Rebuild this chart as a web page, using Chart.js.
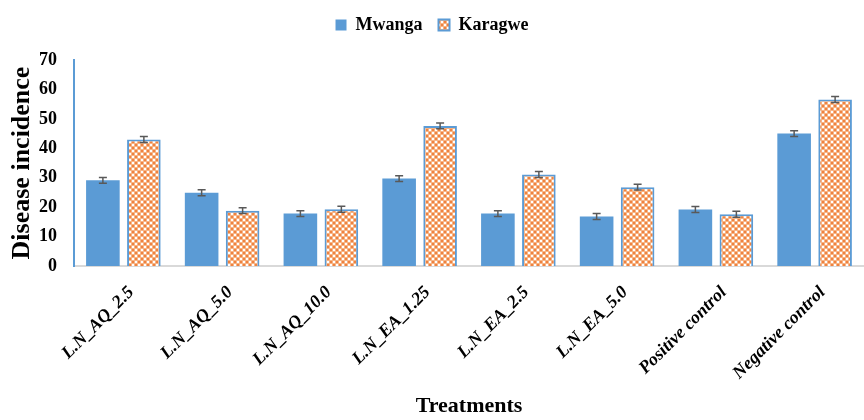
<!DOCTYPE html>
<html>
<head>
<meta charset="utf-8">
<script src="https://cdn.jsdelivr.net/npm/chart.js@4.4.1/dist/chart.umd.min.js"></script>
<style>
  html, body { margin: 0; padding: 0; background: #fff; }
  #wrap { width: 864px; height: 420px; }
</style>
</head>
<body>
<div id="wrap"><canvas id="chart" width="864" height="420"></canvas></div>
<script>
// data
const treatments = ['L.N_AQ_2.5', 'L.N_AQ_5.0', 'L.N_AQ_10.0', 'L.N_EA_1.25', 'L.N_EA_2.5', 'L.N_EA_5.0', 'Positive control', 'Negative control'];
const mwanga = [29.1, 24.9, 17.8, 29.7, 17.8, 16.8, 19.2, 45.0];
const karagwe = [43.0, 18.8, 19.3, 47.6, 31.1, 26.8, 17.6, 56.6];
const mwangaErr = [1.0, 1.0, 1.0, 1.0, 1.0, 1.0, 1.0, 1.0];
const karagweErr = [1.0, 1.0, 1.0, 1.0, 1.0, 1.0, 1.0, 1.0];
const yTicks = [0, 10, 20, 30, 40, 50, 60, 70];

const BLUE = '#5B9BD5';
const SERIF = "'Liberation Serif', 'Times New Roman', serif";

// orange lattice pattern for Karagwe
function makePattern() {
  const c = document.createElement('canvas');
  c.width = 6; c.height = 6;
  const g = c.getContext('2d');
  g.fillStyle = '#F7B485';
  g.fillRect(0, 0, 6, 6);
  g.fillStyle = '#fff';
  g.fillRect(0, 0, 2, 2);
  g.fillRect(3, 3, 2, 2);
  g.fillStyle = '#EE8240';
  g.fillRect(3, 0, 2, 2);
  g.fillRect(0, 3, 2, 2);
  return document.getElementById('chart').getContext('2d').createPattern(c, 'repeat');
}

// error bars drawn through the y scale
const errorBars = {
  id: 'errorBars',
  afterDatasetsDraw(chart) {
    const ctx = chart.ctx;
    const y = chart.scales.y;
    const errs = [mwangaErr, karagweErr];
    chart.data.datasets.forEach((ds, di) => {
      const meta = chart.getDatasetMeta(di);
      meta.data.forEach((bar, i) => {
        const v = ds.data[i], e = errs[di][i];
        const top = y.getPixelForValue(v + e);
        const bot = y.getPixelForValue(v - e);
        ctx.save();
        ctx.strokeStyle = '#595959';
        ctx.lineWidth = 1.5;
        ctx.beginPath();
        ctx.moveTo(bar.x, top); ctx.lineTo(bar.x, bot);
        ctx.moveTo(bar.x - 4, top); ctx.lineTo(bar.x + 4, top);
        ctx.moveTo(bar.x - 4, bot); ctx.lineTo(bar.x + 4, bot);
        ctx.stroke();
        ctx.restore();
      });
    });
  }
};

// fixed legend height so the plot starts near y=60
const legendHeight = {
  id: 'legendHeight',
  afterInit(chart) {
    const fit = chart.legend.fit;
    chart.legend.fit = function () {
      fit.call(this);
      this.height = 60;
    };
  }
};

new Chart(document.getElementById('chart'), {
  type: 'bar',
  data: {
    labels: treatments,
    datasets: [
      {
        label: 'Mwanga',
        data: mwanga,
        backgroundColor: BLUE,
        borderWidth: 0
      },
      {
        label: 'Karagwe',
        data: karagwe,
        backgroundColor: makePattern(),
        borderColor: BLUE,
        borderWidth: 2,
        borderSkipped: 'bottom'
      }
    ]
  },
  options: {
    responsive: false,
    animation: false,
    devicePixelRatio: 1,
    layout: { padding: { left: 0, right: 0, top: 0, bottom: 0 } },
    datasets: {
      bar: { barPercentage: 0.82, categoryPercentage: 0.83 }
    },
    plugins: {
      legend: {
        position: 'top',
        labels: {
          boxWidth: 11,
          boxHeight: 11,
          padding: 16,
          color: '#000',
          font: { family: SERIF, size: 18, weight: 'bold' }
        }
      },
      tooltip: { enabled: false }
    },
    scales: {
      x: {
        grid: { display: false },
        border: { display: true, color: '#D9D9D9', width: 2 },
        ticks: {
          color: '#000',
          maxRotation: 45,
          minRotation: 45,
          padding: 8,
          labelOffset: 8,
          font: { family: SERIF, size: 18, weight: 'bold', style: 'italic' }
        },
        title: {
          display: true,
          text: 'Treatments',
          color: '#000',
          padding: { top: 0, bottom: 0 },
          font: { family: SERIF, size: 22, weight: 'bold' }
        },
        afterFit(scale) { scale.height = 154; }
      },
      y: {
        min: 0,
        max: 70,
        grid: { display: false },
        border: { display: true, color: BLUE, width: 2 },
        afterBuildTicks(scale) { scale.ticks = yTicks.map(v => ({ value: v })); },
        ticks: {
          color: '#000',
          padding: 9,
          font: { family: SERIF, size: 18, weight: 'bold' }
        },
        title: {
          display: true,
          text: 'Disease incidence',
          color: '#000',
          padding: { top: 7, bottom: 0 },
          font: { family: SERIF, size: 26, weight: 'bold' }
        },
        afterFit(scale) { scale.width = 74; }
      }
    }
  },
  plugins: [errorBars, legendHeight]
});
</script>
</body>
</html>
